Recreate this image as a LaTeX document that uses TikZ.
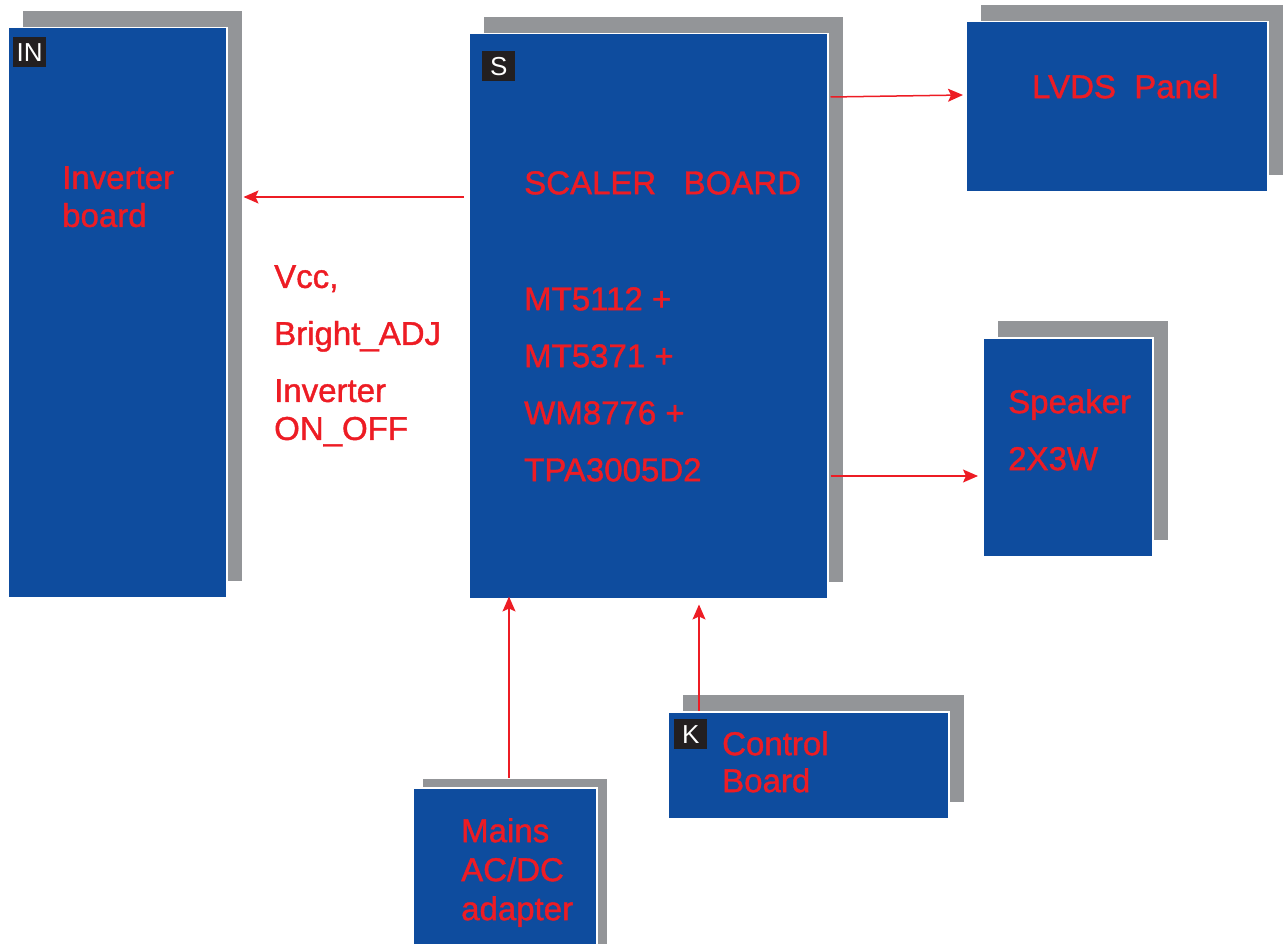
\documentclass[tikz,border=0pt]{standalone}
\usepackage{fontspec}
\setmainfont{Liberation Sans}
\newfontfamily\lblfont[FakeBold=1.2]{Liberation Sans}
\usetikzlibrary{positioning,calc,arrows.meta,shadows}
\definecolor{boardblue}{RGB}{14,76,158}
\definecolor{shadowgray}{RGB}{147,149,152}
\definecolor{labelred}{RGB}{237,28,36}
\definecolor{tagblack}{RGB}{35,31,32}

\tikzset{
  boardbase/.style={draw=white, line width=1.5pt, fill=boardblue, anchor=north west, inner sep=0pt},
  board/.style={boardbase, drop shadow={shadow xshift=15pt, shadow yshift=17pt, fill=shadowgray, opacity=1}},
  smallboard/.style={boardbase, drop shadow={shadow xshift=10pt, shadow yshift=9pt, fill=shadowgray, opacity=1}},
  tag/.style={fill=tagblack, text=white, font=\fontsize{26}{26}\selectfont, minimum width=33pt, minimum height=30pt, inner sep=0pt},
  txt/.style={text=labelred, font=\lblfont\fontsize{33}{38}\selectfont, align=left, anchor=north west, inner sep=0pt},
  sig/.style={draw=labelred, line width=1.5pt, -{Stealth[length=15pt,width=13pt,inset=3pt]}}
}

\begin{document}
\begin{tikzpicture}[x=1pt,y=-1pt]
    \useasboundingbox (0,0) rectangle (1283,944);

    % boards
    \node[board, minimum width=219pt, minimum height=570pt] (inverter) at (7,27) {};
    \node[board, minimum width=359pt, minimum height=565pt] (scaler) at (468,33) {};
    \node[board, minimum width=302pt, minimum height=170pt] (lvds) at (965,21) {};
    \node[board, minimum width=170pt, minimum height=219pt] (speaker) at (982,337) {};
    \node[board, minimum width=281pt, minimum height=107pt] (control) at (667,711) {};
    \node[smallboard, minimum width=184pt, minimum height=170pt] (mains) at (412,787) {};

    % tags
    \node[tag, below right=10pt and 6pt of inverter.north west] (intag) {IN};
    \node[tag, below right=18pt and 14pt of scaler.north west] (stag) {S};
    \node[tag, below right=8pt and 7pt of control.north west] (ktag) {K};

    % texts
    \node[txt] (invtext) at (62,166) {Inverter\\board};
    \node[txt] (scalertitle) at (524,171) {SCALER\ \ \ BOARD};
    \node[txt, font=\lblfont\fontsize{33}{57}\selectfont] (chips) at (524,287) {MT5112 +\\MT5371 +\\WM8776 +\\TPA3005D2};
    \node[txt] (signals) at (274,265) {Vcc,\\[19pt]Bright\_ADJ\\[19pt]Inverter\\ON\_OFF};
    \node[txt] (lvdstext) at (1032,74) {LVDS\ \ Panel};
    \node[txt] (spktext) at (1008,389) {Speaker\\[19pt]2X3W};
    \node[txt, font=\lblfont\fontsize{33}{37}\selectfont] (ctrltext) at (722,731) {Control\\Board};
    \node[txt, font=\lblfont\fontsize{33}{39}\selectfont] (mainstext) at (461,818) {Mains\\AC/DC\\adapter};

    % signals
    \draw[sig] ($(scaler.north east)+(2,64)$) -- ($(lvds.north west)+(-2,74)$);
    \draw[sig] ($(scaler.north west)+(-4,164)$) -- ($(inverter.north east)+(16,170)$);
    \draw[sig] ($(scaler.north east)+(2,443)$) -- ($(speaker.north west)+(-4,139)$);
    \draw[sig] ($(mains.north west)+(97,-9)$) -- ($(scaler.south west)+(41,-3)$);
    \draw[sig] ($(control.north west)+(32,0)$) -- ($(scaler.south west)+(231,5)$);
\end{tikzpicture}
\end{document}
